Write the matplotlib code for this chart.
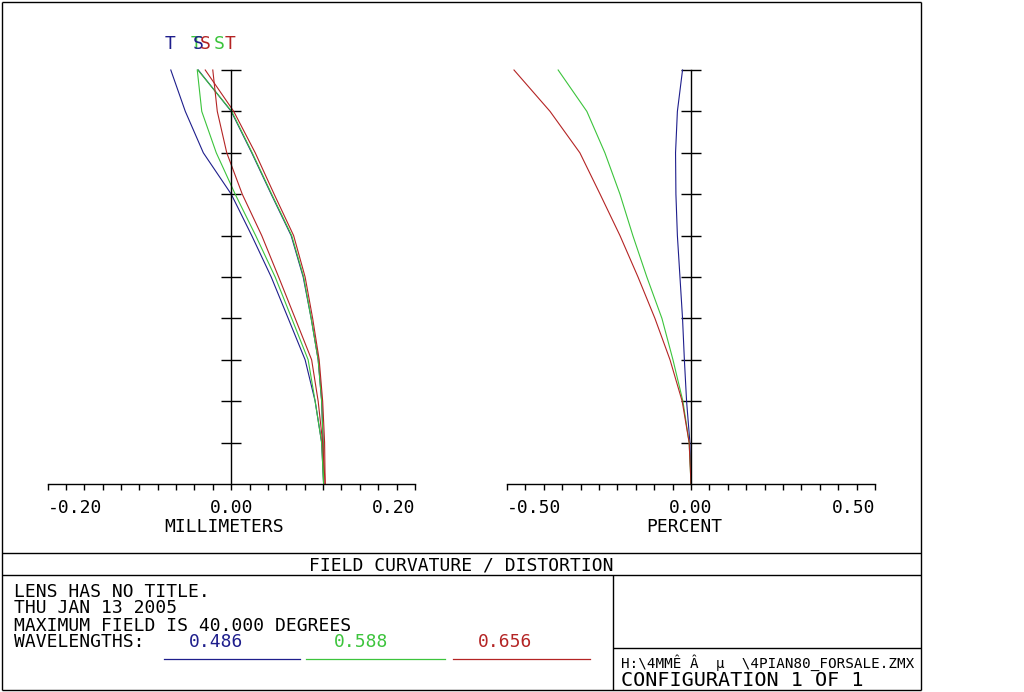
import matplotlib
matplotlib.use("Agg")
import matplotlib.pyplot as plt
import numpy as np

# fractional field (0 = axis, 1 = 40 deg)
field = [0.0, 0.1, 0.2, 0.3, 0.4, 0.5, 0.6, 0.7, 0.8, 0.9, 1.0]

# field curvature, millimeters (S = sagittal, T = tangential)
blue_S = [0.1005, 0.1000, 0.0984, 0.0946, 0.0870, 0.0783, 0.0652, 0.0435, 0.0223, 0.0000, -0.0359]
green_S = [0.1005, 0.1000, 0.0984, 0.0946, 0.0870, 0.0788, 0.0658, 0.0440, 0.0228, 0.0005, -0.0364]
red_S = [0.1022, 0.1016, 0.0995, 0.0957, 0.0886, 0.0804, 0.0679, 0.0467, 0.0261, 0.0027, -0.0283]
blue_T = [0.1005, 0.0984, 0.0913, 0.0804, 0.0620, 0.0435, 0.0223, 0.0000, -0.0304, -0.0500, -0.0658]
green_T = [0.1005, 0.0984, 0.0913, 0.0837, 0.0658, 0.0478, 0.0266, 0.0043, -0.0163, -0.0321, -0.0370]
red_T = [0.1022, 0.0995, 0.0946, 0.0875, 0.0696, 0.0516, 0.0332, 0.0120, -0.0049, -0.0152, -0.0201]

# distortion, percent
blue_D = [0.0, -0.003, -0.012, -0.018, -0.023, -0.030, -0.037, -0.041, -0.042, -0.037, -0.023]
green_D = [0.0, -0.005, -0.022, -0.049, -0.079, -0.120, -0.158, -0.193, -0.234, -0.283, -0.361]
red_D = [0.0, -0.005, -0.024, -0.057, -0.098, -0.144, -0.193, -0.247, -0.302, -0.383, -0.481]

wavelengths = ["0.486", "0.588", "0.656"]
BLUE, GREEN, RED = "#1e1e8c", "#3cc43c", "#b42424"
colors = [BLUE, GREEN, RED]

FONT = "DejaVu Sans Mono"
W, H = 1024, 692

fig = plt.figure(figsize=(W / 100, H / 100), dpi=100)
fig.patch.set_facecolor("white")

# background axes in pixel units for frame and captions
bg = fig.add_axes([0, 0, 1, 1])
bg.set_xlim(0, W)
bg.set_ylim(H, 0)
bg.axis("off")

for (x0, x1, y0, y1) in [(2, 921, 1.5, 1.5), (2, 921, 690, 690), (2, 2, 1.5, 690),
                         (921, 921, 1.5, 690), (2, 921, 553, 553), (2, 921, 575, 575),
                         (613, 613, 575, 690), (613, 921, 648, 648)]:
    bg.plot([x0, x1], [y0, y1], color="black", lw=1.0, solid_capstyle="butt")


def px_axes(x0, x1, y_bot, y_top):
    return fig.add_axes([x0 / W, (H - y_bot) / H, (x1 - x0) / W, (y_bot - y_top) / H])


def style_axis(ax, xlim, major, minor_step):
    ax.set_xlim(*xlim)
    ax.set_ylim(0, 1)
    ax.patch.set_alpha(0)
    for s in ["top", "right"]:
        ax.spines[s].set_visible(False)
    ax.spines["left"].set_position(("data", 0))
    ax.spines["left"].set_linewidth(1.0)
    ax.spines["bottom"].set_linewidth(1.0)
    ax.set_xticks(major)
    ax.set_xticks(np.arange(xlim[0], xlim[1] + 1e-9, minor_step), minor=True)
    ax.tick_params(axis="x", which="both", direction="out", length=4, width=1.0, pad=7,
                   labelsize=13)
    ax.set_yticks(np.arange(0.1, 1.01, 0.1))
    ax.tick_params(axis="y", which="both", direction="inout", length=15, width=1.0,
                   labelleft=False)
    ax.set_xticklabels(["%.2f" % v for v in major], fontfamily=FONT)
    tl = ax.get_xticklabels()
    tl[0].set_ha("left")
    tl[-1].set_ha("right")


# field curvature
ax1 = px_axes(47.5, 415, 484, 70)
style_axis(ax1, (-0.2, 0.2), [-0.2, 0.0, 0.2], 0.02)
for S, T, c in [(blue_S, blue_T, BLUE), (green_S, green_T, GREEN), (red_S, red_T, RED)]:
    ax1.plot(T, field, color=c, lw=0.8, clip_on=False)
    ax1.plot(S, field, color=c, lw=0.8, clip_on=False)

# curve labels at the top
for txt, c, xm in [("T", BLUE, -0.0663), ("T", GREEN, -0.038), ("S", BLUE, -0.0359),
                   ("S", RED, -0.0283), ("S", GREEN, -0.0130), ("T", RED, -0.0011)]:
    ax1.text(xm, 1.051, txt, color=c, ha="center", va="baseline", fontsize=13,
             fontfamily=FONT, clip_on=False)

# distortion
ax2 = px_axes(507, 875, 484, 70)
style_axis(ax2, (-0.5, 0.5), [-0.5, 0.0, 0.5], 0.05)
for D, c in [(blue_D, BLUE), (green_D, GREEN), (red_D, RED)]:
    ax2.plot(D, field, color=c, lw=0.8, clip_on=False)

txt_kw = dict(fontfamily=FONT, fontsize=13, va="baseline", color="black")
bg.text(224, 532, "MILLIMETERS", ha="center", **txt_kw)
bg.text(684, 532, "PERCENT", ha="center", **txt_kw)
bg.text(461, 571, "FIELD CURVATURE / DISTORTION", ha="center", **txt_kw)
bg.text(14, 597, "LENS HAS NO TITLE.", ha="left", **txt_kw)
bg.text(14, 613, "THU JAN 13 2005", ha="left", **txt_kw)
bg.text(14, 631, "MAXIMUM FIELD IS 40.000 DEGREES", ha="left", **txt_kw)
bg.text(14, 647, "WAVELENGTHS:", ha="left", **txt_kw)

for wl, c, xc, (lx0, lx1) in zip(wavelengths, colors, [216, 361, 505],
                                 [(164, 300), (306, 445), (453, 590)]):
    bg.text(xc, 647, wl, ha="center", fontfamily=FONT, fontsize=13, va="baseline", color=c)
    bg.plot([lx0, lx1], [659, 659], color=c, lw=0.9)

bg.text(621, 668, "H:\\4MMÊ Â  µ  \\4PIAN80_FORSALE.ZMX", ha="left", fontfamily=FONT,
        fontsize=10.3, va="baseline", color="black")
bg.text(621, 686, "CONFIGURATION 1 OF 1", ha="left", fontfamily=FONT, fontsize=14.5,
        va="baseline", color="black")

fig.savefig("out.png", dpi=100)
